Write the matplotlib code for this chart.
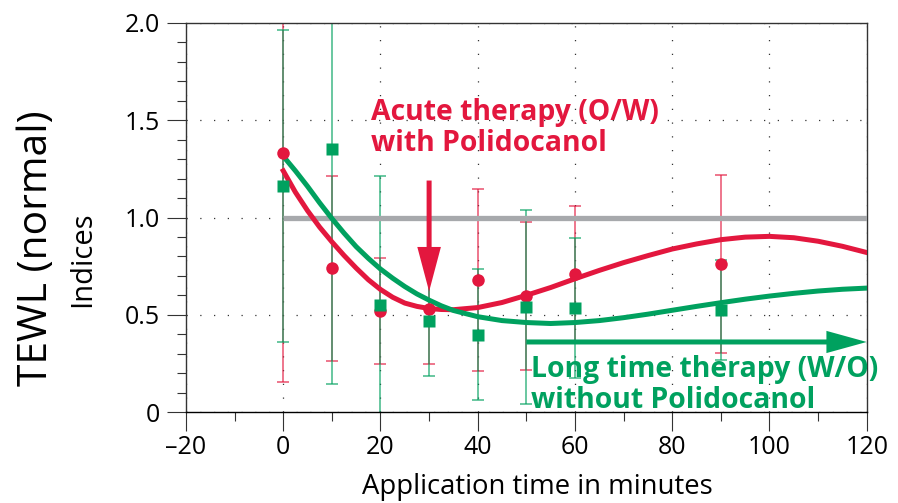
import numpy as np
from matplotlib import pyplot as plt
from matplotlib.ticker import MultipleLocator

plt.rcParams['font.family'] = ['Open Sans', 'DejaVu Sans']

# measured points
x_pts = [0, 10, 20, 30, 40, 50, 60, 90]
acute_y = [1.333, 0.739, 0.521, 0.528, 0.677, 0.596, 0.708, 0.759]
acute_err = [1.18, 0.476, 0.273, 0.28, 0.468, 0.381, 0.353, 0.458]
long_y = [1.162, 1.352, 0.550, 0.468, 0.397, 0.541, 0.536, 0.524]
long_err = [0.80, 1.21, 0.663, 0.281, 0.337, 0.498, 0.36, 0.257]

# fitted curves
curve_x = [0, 2.5, 5, 7.5, 10, 12.5, 15, 17.5, 20, 22.5, 25, 27.5, 30,
           32.5, 35, 40, 45, 50, 55, 60, 65, 70, 75, 80, 85, 90, 95, 100,
           105, 110, 115, 120]
acute_fit = [1.24, 1.13, 1.035, 0.95, 0.875, 0.805, 0.74, 0.68, 0.63, 0.59,
             0.56, 0.543, 0.532, 0.527, 0.526, 0.537, 0.563, 0.60, 0.64,
             0.685, 0.728, 0.768, 0.804, 0.838, 0.864, 0.886, 0.899, 0.903,
             0.896, 0.878, 0.852, 0.82]
long_fit = [1.315, 1.24, 1.16, 1.075, 0.995, 0.92, 0.85, 0.79, 0.735, 0.688,
            0.645, 0.607, 0.575, 0.546, 0.522, 0.49, 0.47, 0.46, 0.455,
            0.46, 0.47, 0.485, 0.503, 0.523, 0.543, 0.562, 0.58, 0.596, 0.61,
            0.622, 0.631, 0.637]

xticks = [-20, 0, 20, 40, 60, 80, 100, 120]
xtick_labels = ['\u201320', '0', '20', '40', '60', '80', '100', '120']
yticks = [0, 0.5, 1.0, 1.5, 2.0]
ytick_labels = ['0', '0.5', '1.0', '1.5', '2.0']

red = '#e3173e'
green = '#00a15f'
grey = '#a7a9ac'

fig = plt.figure(figsize=(8.98, 5.03), dpi=100)
ax = fig.add_axes([186 / 898, 91 / 503, 680.7 / 898, 389 / 503])

ax.errorbar(x_pts, acute_y, yerr=acute_err, fmt='none', ecolor=red,
            elinewidth=1.1, capsize=4, capthick=1.1, alpha=0.75, zorder=2)
ax.errorbar(x_pts, long_y, yerr=long_err, fmt='none', ecolor=green,
            elinewidth=1.1, capsize=4, capthick=1.1, alpha=0.75, zorder=2)

ax.plot([0, 120], [1.0, 1.0], color=grey, lw=3.8, zorder=3,
        solid_capstyle='butt')

ax.plot(curve_x, acute_fit, color=red, lw=3.6, zorder=4)
ax.plot(curve_x, long_fit, color=green, lw=3.6, zorder=4)

ax.plot(x_pts, acute_y, 'o', color=red, ms=9, mec='none', zorder=5)
ax.plot(x_pts, long_y, 's', color=green, ms=9, mec='none', zorder=5)

# arrows
ax.annotate('', xy=(30, 0.62), xytext=(30, 1.19),
            arrowprops=dict(arrowstyle='simple,head_length=3.2,head_width=1.7,'
                                       'tail_width=0.36',
                            mutation_scale=10, color=red, lw=0,
                            shrinkA=0, shrinkB=0),
            zorder=6)
ax.annotate('', xy=(120, 0.36), xytext=(50, 0.36),
            arrowprops=dict(arrowstyle='simple,head_length=2.9,head_width=1.6,'
                                       'tail_width=0.36',
                            mutation_scale=10, color=green, lw=0,
                            shrinkA=0, shrinkB=0),
            annotation_clip=False, zorder=6)

ax.text(18.0, 1.46, 'Acute therapy (O/W)\nwith Polidocanol', color=red,
        fontsize=20.4, fontweight='bold', va='center', ha='left',
        linespacing=1.1, zorder=7)
ax.text(51.0, 0.14, 'Long time therapy (W/O)\nwithout Polidocanol',
        color=green, fontsize=20.4, fontweight='bold', va='center', ha='left',
        linespacing=1.1, clip_on=False, zorder=7)

ax.set_xlim(-20, 120)
ax.set_ylim(0, 2.0)
ax.set_xticks(xticks)
ax.set_xticklabels(xtick_labels)
ax.set_yticks(yticks)
ax.set_yticklabels(ytick_labels)
ax.xaxis.set_minor_locator(MultipleLocator(10))
ax.yaxis.set_minor_locator(MultipleLocator(0.1))
ax.tick_params(which='major', direction='out', length=13.5, width=0.8,
               color='#333333', labelsize=18, pad=5)
ax.tick_params(which='minor', direction='out', length=6.5, width=0.8,
               color='#333333')
ax.tick_params(axis='x', labelsize=18, pad=3)

ax.grid(True, which='major', color='#333333', lw=0.9,
        linestyle=(0, (1, 10)))
for side in ['left', 'bottom', 'top', 'right']:
    ax.spines[side].set_linewidth(1.0)
    ax.spines[side].set_color('#333333')
ax.spines['bottom'].set_color('black')

fig.text(37 / 898, 1 - 248.5 / 503, 'TEWL (normal)', rotation=90,
         fontsize=29.3, ha='center', va='center')
fig.text(83 / 898, 1 - 259.5 / 503, 'Indices', rotation=90,
         fontsize=21, ha='center', va='center')
fig.text(537 / 898, 1 - 487 / 503, 'Application time in minutes',
         fontsize=19.8, ha='center', va='center')

plt.savefig('out.png', dpi=100)
